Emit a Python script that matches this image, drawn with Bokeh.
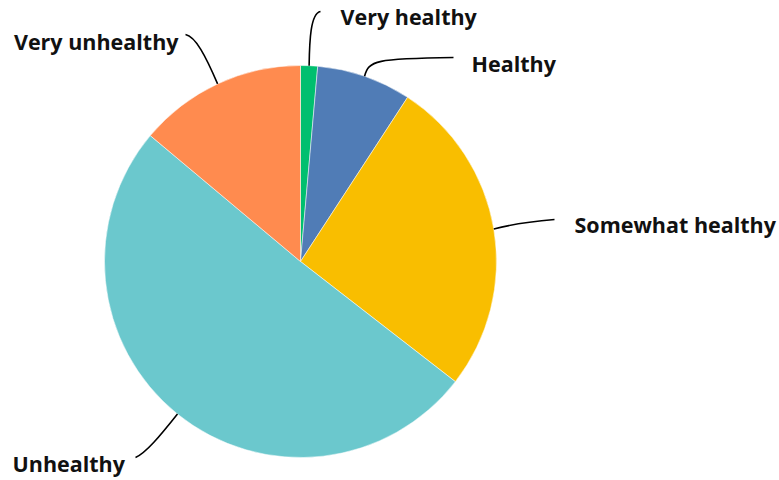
import numpy as np
from bokeh.plotting import figure
from bokeh.models import Range1d, ColumnDataSource
from bokeh.core.properties import value
from bokeh.embed import file_html
from bokeh.resources import INLINE

# ---- data ----
categories = ["Very healthy", "Healthy", "Somewhat healthy", "Unhealthy", "Very unhealthy"]
shares = [1.4, 7.8, 26.3, 50.6, 13.9]
colors = ["#00BF6F", "#507CB6", "#F9BE00", "#6BC8CD", "#FF8B4F"]

# ---- layout (pixel-like data coords, y up) ----
W, H = 779, 480
CX, CY, R = 300, 219, 196
# per category: label anchor, alignment, leader-line end and bezier controls
label_pos = [(340, 464), (471, 417), (574, 256), (12, 17), (178, 439)]
label_align = ["left", "left", "left", "left", "right"]
line_end = [(320, 469), (453, 423), (554, 261), (135, 23), (185, 446)]
ctrl0 = [(309, 440), (368, 420), (510, 256), (160, 45), (205, 425)]
ctrl1 = [(310, 467), (375, 422), (530, 259), (145, 27), (195, 444)]

vals = np.array(shares, dtype=float)
frac = vals / vals.sum()
cum_end = np.cumsum(frac)
cum_start = cum_end - frac
start_ang = np.pi / 2 - 2 * np.pi * cum_start
end_ang = np.pi / 2 - 2 * np.pi * cum_end
mid = (start_ang + end_ang) / 2

src = ColumnDataSource(dict(cat=categories, start=start_ang, end=end_ang, color=colors))

p = figure(width=W, height=H, output_backend="svg", toolbar_location=None,
           x_range=Range1d(0, W), y_range=Range1d(0, H),
           min_border=0, outline_line_color=None)
p.axis.visible = False
p.grid.visible = False

p.wedge(x=CX, y=CY, radius=R, start_angle="start", end_angle="end", direction="clock",
        fill_color="color", line_color="white", line_width=0.5, source=src)

sx = CX + R * np.cos(mid)
sy = CY + R * np.sin(mid)
p.bezier(x0=list(sx), y0=list(sy),
         x1=[e[0] for e in line_end], y1=[e[1] for e in line_end],
         cx0=[c[0] for c in ctrl0], cy0=[c[1] for c in ctrl0],
         cx1=[c[0] for c in ctrl1], cy1=[c[1] for c in ctrl1],
         line_color="black", line_width=1.6)

for i, cat in enumerate(categories):
    p.text(x=[label_pos[i][0]], y=[label_pos[i][1]], text=[cat],
           text_align=label_align[i], text_baseline="middle",
           text_font=value("Open Sans"), text_font_style="bold",
           text_font_size="21.5px", text_color="#111111")

open("out.html", "w").write(file_html(p, INLINE))
